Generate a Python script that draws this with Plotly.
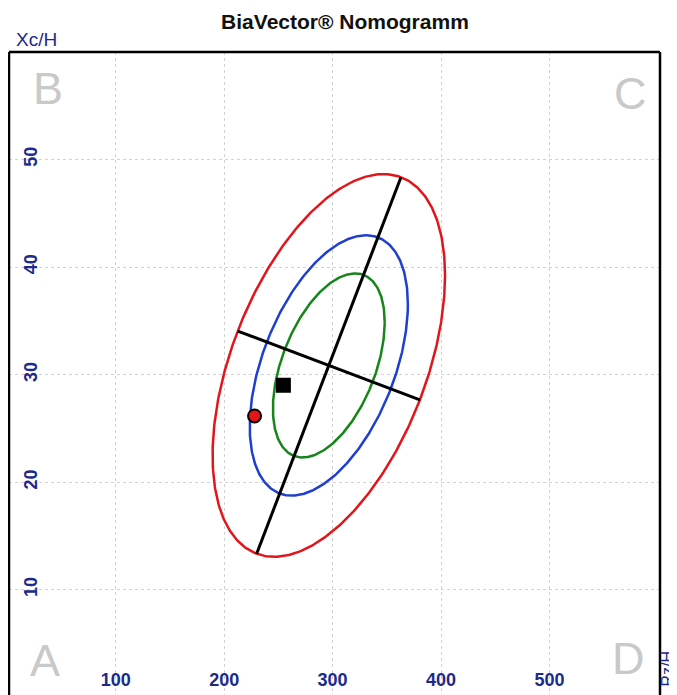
import numpy as np
import plotly.graph_objects as go

# ---- data ----
x_ticks = [100, 200, 300, 400, 500]
y_ticks = [10, 20, 30, 40, 50]

# reference population (R/H and Xc/H): means, SDs, correlation
mean_rh = 296.5
sd_rh = 43.8
mean_xch = 30.85
sd_xch = 7.27
corr = 0.47

# tolerance ellipses: probability level and colour
ellipse_levels = [0.95, 0.75, 0.50]
ellipse_colors = ["#e3151b", "#1f3fcf", "#16851a"]

# subject points
point_rh = [228.0, 254.6]
point_xch = [26.15, 29.0]
point_symbols = ["circle", "square"]
point_colors = ["#e3151b", "#000000"]

corner_letters = ["A", "B", "C", "D"]

NAVY = "#1c2a8c"
Y_SCALE = 10.0  # Xc/H scaling used for the display geometry of the axes
FONT = "Liberation Sans, Arial"

fig = go.Figure()

t = np.linspace(0, 2 * np.pi, 400)
for p, col in zip(ellipse_levels, ellipse_colors):
    k = np.sqrt(-2 * np.log(1 - p))
    ex = mean_rh + k * sd_rh * np.cos(t)
    ey = mean_xch + k * sd_xch * (corr * np.cos(t) + np.sqrt(1 - corr ** 2) * np.sin(t))
    fig.add_trace(go.Scatter(x=ex, y=ey, mode="lines",
                             line=dict(color=col, width=2.5),
                             hoverinfo="skip", showlegend=False))

# principal axes of the 95% ellipse (in display-scaled space)
k95 = np.sqrt(-2 * np.log(1 - ellipse_levels[0]))
sy = sd_xch * Y_SCALE
cov = np.array([[sd_rh ** 2, corr * sd_rh * sy], [corr * sd_rh * sy, sy ** 2]])
vals, vecs = np.linalg.eigh(cov)
for i in range(2):
    v = vecs[:, i] * k95 * np.sqrt(vals[i])
    lx = [mean_rh - v[0], mean_rh + v[0]]
    ly = [mean_xch - v[1] / Y_SCALE, mean_xch + v[1] / Y_SCALE]
    fig.add_trace(go.Scatter(x=lx, y=ly, mode="lines",
                             line=dict(color="black", width=3),
                             hoverinfo="skip", showlegend=False))

for px_, py_, sym, col in zip(point_rh, point_xch, point_symbols, point_colors):
    fig.add_trace(go.Scatter(x=[px_], y=[py_], mode="markers",
                             marker=dict(symbol=sym, color=col, size=13,
                                         line=dict(color="black", width=2)),
                             showlegend=False))

grid = dict(showgrid=True, gridcolor="#d2d2d2", griddash="3px,3px", gridwidth=1,
            zeroline=False, showline=False, ticks="",
            tickfont=dict(family=FONT, size=18, color=NAVY, weight="bold"))

# page body has an 8px margin, so the figure is sized/offset to compensate
fig.update_layout(
    width=669, height=687,
    margin=dict(l=1, r=17, t=44, b=0),
    paper_bgcolor="white", plot_bgcolor="white",
    xaxis=dict(range=[1.5, 602], tickvals=x_ticks, ticktext=[str(v) for v in x_ticks],
               ticklabelposition="inside", ticklabelstandoff=2, **grid),
    yaxis=dict(range=[0.2, 60], tickvals=y_ticks, ticktext=[str(v) for v in y_ticks],
               ticklabelposition="inside", tickangle=-90, ticklabelstandoff=3, **grid),
    title=dict(text="<b>BiaVector® Nomogramm</b>", x=0.5037, xanchor="center",
               y=0.9796, yanchor="middle",
               font=dict(family=FONT, size=21, color="#111111")),
    showlegend=False,
)

# frame (left, top, right)
for x0, y0, x1, y1 in [(0, 0, 0, 1), (0, 1, 1, 1), (1, 0, 1, 1)]:
    fig.add_shape(type="line", xref="paper", yref="paper", x0=x0, y0=y0, x1=x1, y1=y1,
                  line=dict(color="black", width=2.5))

# corner letters
corner_pos = {"A": (0.0553, 0.053), "B": (0.0599, 0.9425), "C": (0.955, 0.935), "D": (0.952, 0.0575)}
for L in corner_letters:
    cx, cy = corner_pos[L]
    fig.add_annotation(text=L, xref="paper", yref="paper", x=cx, y=cy,
                       showarrow=False, xanchor="center", yanchor="middle",
                       font=dict(family=FONT, size=45, color="#c9c9c9"))

fig.add_annotation(text="Xc/H", xref="paper", yref="paper", x=0.0077, y=1.0202,
                   showarrow=False, xanchor="left", yanchor="middle",
                   font=dict(family=FONT, size=19, color=NAVY))
fig.add_annotation(text="Rz/H", xref="paper", yref="paper", x=1.013, y=0.042,
                   showarrow=False, xanchor="center", yanchor="middle", textangle=-90,
                   font=dict(family=FONT, size=16, color=NAVY))

fig.write_html("out.html")
